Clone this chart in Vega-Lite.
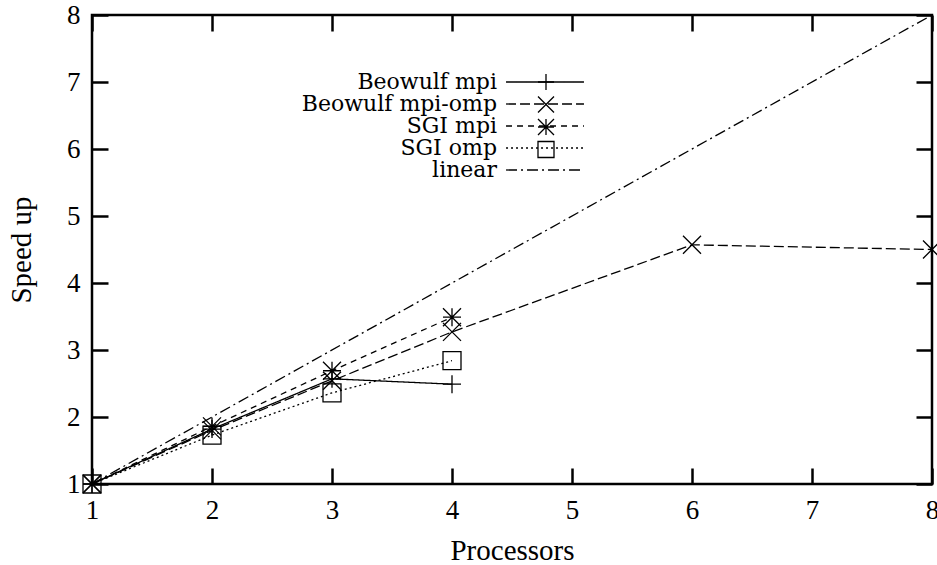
{
  "$schema": "https://vega.github.io/schema/vega-lite/v6.json",
  "width": 840,
  "height": 469,
  "autosize": {"type": "none"},
  "padding": {"left": 92, "top": 15, "right": 5, "bottom": 81},
  "background": "white",
  "config": {
    "font": "Liberation Serif",
    "view": {"stroke": "black", "strokeWidth": 2.5},
    "axis": {
      "grid": false,
      "domain": false,
      "tickColor": "black",
      "tickWidth": 2.5,
      "tickSize": -16,
      "labelColor": "black",
      "titleColor": "black",
      "labelFont": "Liberation Serif",
      "titleFont": "Liberation Serif",
      "labelFontSize": 27,
      "titleFontSize": 29,
      "titleFontWeight": "normal"
    },
    "legend": {
      "labelFont": "DejaVu Serif",
      "labelFontSize": 22,
      "labelColor": "black",
      "labelLimit": 0,
      "padding": 0,
      "rowPadding": 0
    }
  },
  "data": {
    "values": [
      {"series": "Beowulf mpi", "p": 1, "s": 1},
      {"series": "Beowulf mpi", "p": 2, "s": 1.82},
      {"series": "Beowulf mpi", "p": 3, "s": 2.57},
      {"series": "Beowulf mpi", "p": 4, "s": 2.49},
      {"series": "Beowulf mpi-omp", "p": 1, "s": 1},
      {"series": "Beowulf mpi-omp", "p": 2, "s": 1.8},
      {"series": "Beowulf mpi-omp", "p": 3, "s": 2.54},
      {"series": "Beowulf mpi-omp", "p": 4, "s": 3.27},
      {"series": "Beowulf mpi-omp", "p": 6, "s": 4.57},
      {"series": "Beowulf mpi-omp", "p": 8, "s": 4.5},
      {"series": "SGI mpi", "p": 1, "s": 1},
      {"series": "SGI mpi", "p": 2, "s": 1.86},
      {"series": "SGI mpi", "p": 3, "s": 2.69},
      {"series": "SGI mpi", "p": 4, "s": 3.49},
      {"series": "SGI omp", "p": 1, "s": 1},
      {"series": "SGI omp", "p": 2, "s": 1.73},
      {"series": "SGI omp", "p": 3, "s": 2.36},
      {"series": "SGI omp", "p": 4, "s": 2.84},
      {"series": "linear", "p": 1, "s": 1},
      {"series": "linear", "p": 8, "s": 8}
    ]
  },
  "layer": [
    {
      "mark": {"type": "line", "color": "black", "strokeWidth": 1.3},
      "encoding": {
        "x": {
          "field": "p", "type": "quantitative", "title": "Processors",
          "scale": {"domain": [1, 8], "nice": false, "zero": false},
          "axis": {"orient": "bottom", "values": [1, 2, 3, 4, 5, 6, 7, 8], "labelPadding": 29, "titlePadding": 13, "labelFlush": false}
        },
        "y": {
          "field": "s", "type": "quantitative", "title": "Speed up",
          "scale": {"domain": [1, 8], "nice": false, "zero": false},
          "axis": {"orient": "left", "values": [1, 2, 3, 4, 5, 6, 7, 8], "labelPadding": 28, "titlePadding": 36, "titleBaseline": "alphabetic", "labelFlush": false}
        },
        "strokeDash": {
          "field": "series", "type": "nominal",
          "scale": {"range": [[1, 0], [10, 4], [6, 5], [2, 3], [11, 4, 2, 4]]},
          "legend": {
            "orient": "none", "legendX": 442, "legendY": 56, "title": null,
            "symbolType": "M-4.33,0L4.33,0", "symbolSize": 324, "symbolStrokeWidth": 1.3,
            "symbolStrokeColor": "black", "symbolFillColor": "transparent",
            "labelAlign": "right", "labelOffset": -59
          }
        }
      }
    },
    {
      "transform": [{"filter": "datum.series !== 'linear'"}],
      "mark": {"type": "point", "filled": false, "color": "black", "strokeWidth": 1.3, "size": 324, "opacity": 1},
      "encoding": {
        "x": {
          "field": "p", "type": "quantitative",
          "axis": {"orient": "top", "values": [1, 2, 3, 4, 5, 6, 7, 8], "labels": false, "title": null}
        },
        "y": {
          "field": "s", "type": "quantitative",
          "axis": {"orient": "right", "values": [1, 2, 3, 4, 5, 6, 7, 8], "labels": false, "title": null}
        },
        "shape": {
          "field": "series", "type": "nominal",
          "scale": {"range": [
            "M-1,0L1,0M0,-1L0,1",
            "M-1,-1L1,1M-1,1L1,-1",
            "M-1,0L1,0M0,-1L0,1M-1,-1L1,1M-1,1L1,-1",
            "M-1,-1L1,-1L1,1L-1,1Z"
          ]},
          "legend": {
            "orient": "none", "legendX": 443, "legendY": 56, "title": null,
            "symbolSize": 256, "symbolStrokeWidth": 1.3, "symbolStrokeColor": "black",
            "symbolFillColor": "transparent", "rowPadding": 0.5,
            "labelExpr": "''"
          }
        }
      }
    }
  ]
}
